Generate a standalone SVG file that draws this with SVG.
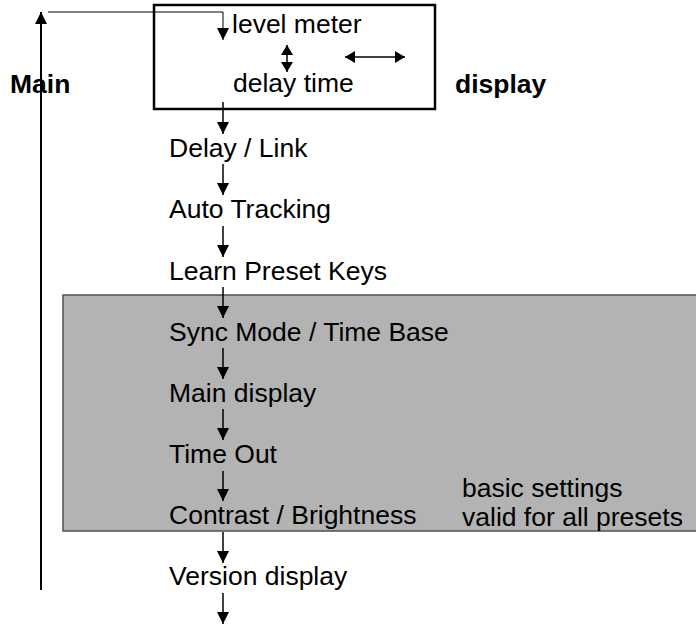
<svg xmlns="http://www.w3.org/2000/svg" width="696" height="625" viewBox="0 0 696 625">
<defs>
<marker id="ah" viewBox="0 0 12 12" refX="12" refY="6" markerWidth="12" markerHeight="12" markerUnits="userSpaceOnUse" orient="auto"><path d="M0,0 L12,6 L0,12 Z" fill="#000"/></marker>
<marker id="ahs" viewBox="0 0 10 12" refX="10" refY="6" markerWidth="10" markerHeight="12" markerUnits="userSpaceOnUse" orient="auto-start-reverse"><path d="M0,0 L10,6 L0,12 Z" fill="#000"/></marker>
</defs>
<style>
text{font-family:"Liberation Sans",Arial,sans-serif;font-size:26.5px;fill:#000}
.b{font-weight:bold}
.c{stroke:#000;stroke-width:1.5;fill:none;marker-end:url(#ah)}
</style>
<rect width="696" height="625" fill="#fff"/>
<g id="settings-area">
<rect x="63" y="295" width="640" height="236" fill="#b3b3b3" stroke="#505050" stroke-width="1.5"/>
<text x="462" y="497">basic settings</text>
<text x="462" y="526">valid for all presets</text>
</g>
<g id="display-box">
<rect x="154" y="5" width="281" height="104" fill="none" stroke="#000" stroke-width="2.5"/>
<text x="232" y="33">level meter</text>
<text x="233" y="92">delay time</text>
<line x1="287" y1="45" x2="287" y2="72" stroke="#000" stroke-width="1.5" marker-start="url(#ahs)" marker-end="url(#ahs)"/>
<line x1="345" y1="57" x2="405" y2="57" stroke="#000" stroke-width="1.5" marker-start="url(#ahs)" marker-end="url(#ahs)"/>
</g>
<g id="label-main"><text class="b" x="10" y="93">Main</text></g>
<g id="label-display"><text class="b" x="455" y="93">display</text></g>
<g id="n-delay-link"><text x="169" y="157">Delay / Link</text></g>
<g id="n-auto-tracking"><text x="169" y="218">Auto Tracking</text></g>
<g id="n-learn"><text x="169" y="280">Learn Preset Keys</text></g>
<g id="n-sync"><text x="169" y="341">Sync Mode / Time Base</text></g>
<g id="n-main-display"><text x="169" y="402">Main display</text></g>
<g id="n-timeout"><text x="169" y="463">Time Out</text></g>
<g id="n-contrast"><text x="169" y="524">Contrast / Brightness</text></g>
<g id="n-version"><text x="169" y="585">Version display</text></g>
<g id="connectors">
<path d="M48,12 H223 V40" stroke="#000" stroke-width="1" fill="none" marker-end="url(#ah)"/>
<path d="M41,590 V12" stroke="#000" stroke-width="2" fill="none" marker-end="url(#ah)"/>
<path class="c" d="M223,102 V134"/>
<path class="c" d="M223,164 V195"/>
<path class="c" d="M223,226 V257"/>
<path class="c" d="M223,287 V318"/>
<path class="c" d="M223,348 V379"/>
<path class="c" d="M223,409 V440"/>
<path class="c" d="M223,471 V501"/>
<path class="c" d="M223,532 V563"/>
<path class="c" d="M223,593 V624"/>
</g>
</svg>
